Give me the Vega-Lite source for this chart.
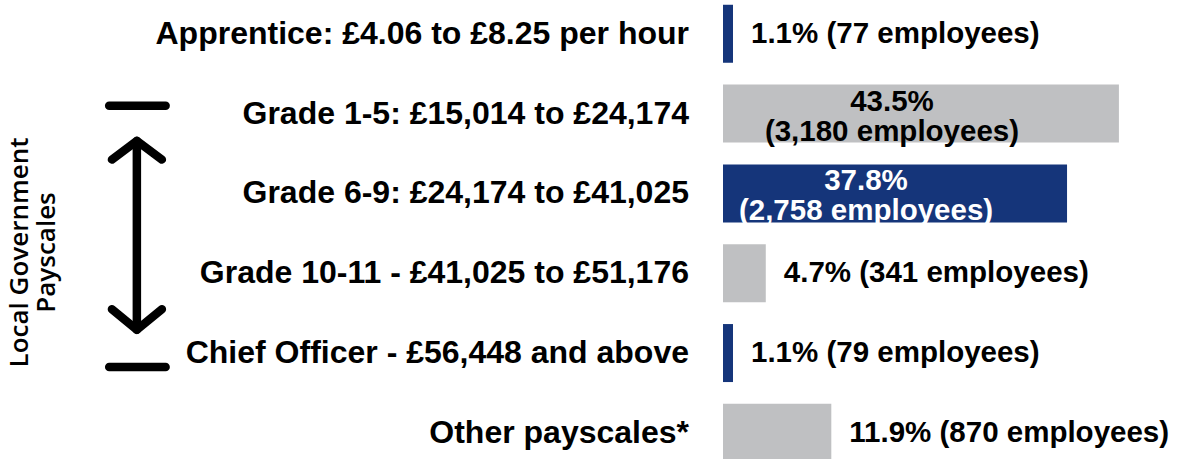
{
  "$schema": "https://vega.github.io/schema/vega-lite/v6.json",
  "width": 466,
  "height": 459,
  "autosize": {"type": "none"},
  "padding": {"left": 723, "top": 0, "right": 0, "bottom": 0},
  "background": "white",
  "config": {"view": {"stroke": null}},
  "datasets": {
    "pay": [
      {"row": 0, "label": "Apprentice: £4.06 to £8.25 per hour", "pct": 1.1, "employees": 77, "valueText": "1.1% (77 employees)"},
      {"row": 1, "label": "Grade 1-5: £15,014 to £24,174", "pct": 43.5, "employees": 3180, "valueText": "43.5%\n(3,180 employees)"},
      {"row": 2, "label": "Grade 6-9: £24,174 to £41,025", "pct": 37.8, "employees": 2758, "valueText": "37.8%\n(2,758 employees)"},
      {"row": 3, "label": "Grade 10-11 - £41,025 to £51,176", "pct": 4.7, "employees": 341, "valueText": "4.7% (341 employees)"},
      {"row": 4, "label": "Chief Officer - £56,448 and above", "pct": 1.1, "employees": 79, "valueText": "1.1% (79 employees)"},
      {"row": 5, "label": "Other payscales*", "pct": 11.9, "employees": 870, "valueText": "11.9% (870 employees)"}
    ],
    "arrow": [
      {"part": "topbar", "seq": 0, "ax": -67.44, "ay": 0.902},
      {"part": "topbar", "seq": 1, "ax": -61.24, "ay": 0.902},
      {"part": "bottombar", "seq": 0, "ax": -67.44, "ay": 4.174},
      {"part": "bottombar", "seq": 1, "ax": -61.24, "ay": 4.174},
      {"part": "shaft", "seq": 0, "ax": -64.4, "ay": 1.343},
      {"part": "shaft", "seq": 1, "ax": -64.4, "ay": 3.708},
      {"part": "topchevron", "seq": 0, "ax": -67.14, "ay": 1.576},
      {"part": "topchevron", "seq": 1, "ax": -64.4, "ay": 1.343},
      {"part": "topchevron", "seq": 2, "ax": -61.65, "ay": 1.576},
      {"part": "bottomchevron", "seq": 0, "ax": -67.14, "ay": 3.451},
      {"part": "bottomchevron", "seq": 1, "ax": -64.4, "ay": 3.708},
      {"part": "bottomchevron", "seq": 2, "ax": -61.65, "ay": 3.451}
    ],
    "note": [
      {"text": "Local Government\nPayscales", "ax": -77.2, "ay": 2.74}
    ]
  },
  "resolve": {"scale": {"x": "independent"}},
  "layer": [
    {
      "data": {"name": "pay"},
      "mark": {"type": "bar", "orient": "horizontal", "size": 58, "clip": true},
      "encoding": {
        "y": {"field": "row", "type": "quantitative", "scale": {"domain": [-0.3603, 5.2647], "reverse": true, "nice": false, "zero": false}, "axis": null},
        "x": {"field": "pct", "type": "quantitative", "scale": {"domain": [0, 51.2], "nice": false}, "axis": null},
        "x2": {"datum": 0},
        "color": {"condition": {"test": "datum.row % 2 == 0", "value": "#15357a"}, "value": "#bfc0c2"}
      }
    },
    {
      "data": {"name": "pay"},
      "mark": {"type": "text", "align": "right", "baseline": "middle", "dx": -34, "font": "Liberation Sans", "fontWeight": "bold", "fontSize": 32, "color": "black"},
      "encoding": {
        "y": {"field": "row", "type": "quantitative", "scale": {"domain": [-0.3603, 5.2647], "reverse": true, "nice": false, "zero": false}, "axis": null},
        "x": {"datum": 0, "type": "quantitative", "scale": {"domain": [0, 51.2], "nice": false}, "axis": null},
        "text": {"field": "label"}
      }
    },
    {
      "data": {"name": "pay"},
      "transform": [{"filter": "datum.pct < 30"}],
      "mark": {"type": "text", "align": "left", "baseline": "middle", "dx": 18, "font": "Liberation Sans", "fontWeight": "bold", "fontSize": 29.5, "color": "black"},
      "encoding": {
        "y": {"field": "row", "type": "quantitative", "scale": {"domain": [-0.3603, 5.2647], "reverse": true, "nice": false, "zero": false}, "axis": null},
        "x": {"field": "pct", "type": "quantitative", "scale": {"domain": [0, 51.2], "nice": false}, "axis": null},
        "text": {"field": "valueText"}
      }
    },
    {
      "data": {"name": "pay"},
      "transform": [{"filter": "datum.pct >= 30"}],
      "mark": {"type": "text", "align": "center", "baseline": "middle", "dx": -29, "dy": -12, "lineBreak": "\n", "lineHeight": 30, "font": "Liberation Sans", "fontWeight": "bold", "fontSize": 29.5},
      "encoding": {
        "y": {"field": "row", "type": "quantitative", "scale": {"domain": [-0.3603, 5.2647], "reverse": true, "nice": false, "zero": false}, "axis": null},
        "x": {"field": "pct", "type": "quantitative", "scale": {"domain": [0, 102.4], "nice": false}, "axis": null},
        "text": {"field": "valueText"},
        "color": {"condition": {"test": "datum.row % 2 == 0", "value": "white"}, "value": "black"}
      }
    },
    {
      "data": {"name": "arrow"},
      "mark": {"type": "line", "color": "black", "strokeWidth": 8.5, "strokeCap": "round", "strokeJoin": "round"},
      "encoding": {
        "y": {"field": "ay", "type": "quantitative", "scale": {"domain": [-0.3603, 5.2647], "reverse": true, "nice": false, "zero": false}, "axis": null},
        "x": {"field": "ax", "type": "quantitative", "scale": {"domain": [0, 51.2], "nice": false}, "axis": null},
        "detail": {"field": "part"},
        "order": {"field": "seq"}
      }
    },
    {
      "data": {"name": "note"},
      "mark": {"type": "text", "angle": 270, "align": "center", "baseline": "middle", "lineBreak": "\n", "lineHeight": 27, "font": "Open Sans", "fontWeight": 600, "fontSize": 26, "color": "black"},
      "encoding": {
        "y": {"field": "ay", "type": "quantitative", "scale": {"domain": [-0.3603, 5.2647], "reverse": true, "nice": false, "zero": false}, "axis": null},
        "x": {"field": "ax", "type": "quantitative", "scale": {"domain": [0, 51.2], "nice": false}, "axis": null},
        "text": {"field": "text"}
      }
    }
  ]
}
